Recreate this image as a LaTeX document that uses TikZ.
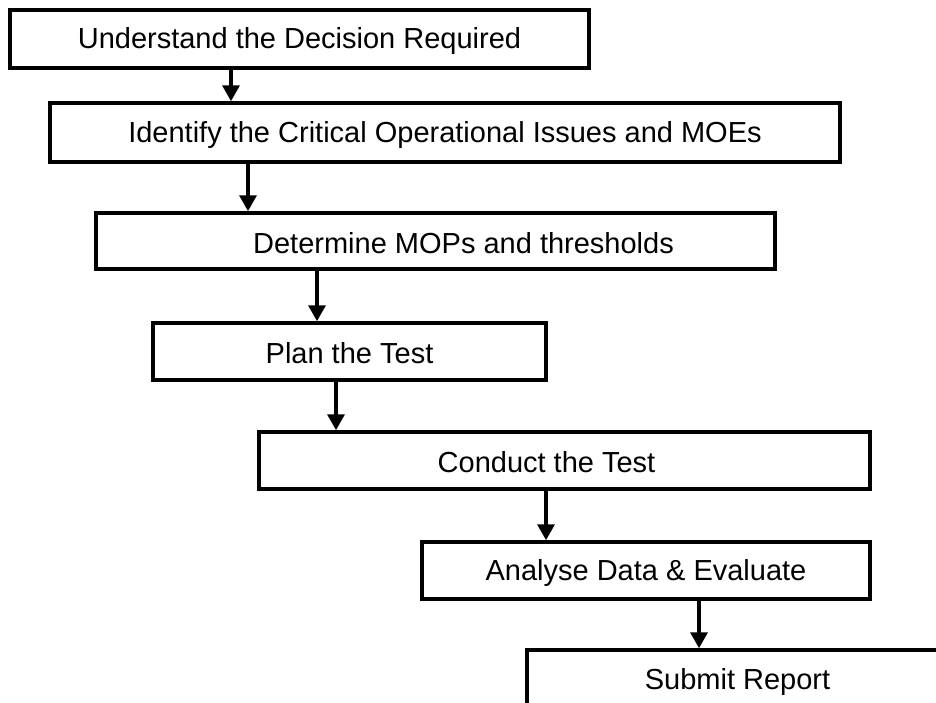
\documentclass[tikz,border=0pt]{standalone}
\usepackage{fontspec}
\setmainfont{Liberation Sans}
\usepackage{tikz}
\usetikzlibrary{arrows.meta}

\tikzset{
  stage/.style={draw, line width=3.5pt, minimum height=57pt, inner sep=0pt},
  flow/.style={line width=3.5pt, -{Triangle[length=16pt,width=17pt]}},
  every label/.style={yshift=-2pt},
}

\begin{document}
\begin{tikzpicture}[x=1pt, y=-1pt, font=\fontsize{29}{34}\selectfont]
  \clip (0,0) rectangle (936,702);
  % the seven stages, top to bottom
  \node[stage, minimum width=579pt, minimum height=58pt,
        label={center:Understand the Decision Required}] (b1) at (299.5,39) {};
  \node[stage, minimum width=790pt, minimum height=59pt,
        label={center:Identify the Critical Operational Issues and MOEs}] (b2) at (445,132.5) {};
  \node[stage, minimum width=679pt, minimum height=56pt,
        label={[xshift=28pt]center:Determine MOPs and thresholds}] (b3) at (435.5,241) {};
  \node[stage, minimum width=393pt,
        label={center:Plan the Test}] (b4) at (349.5,351.5) {};
  \node[stage, minimum width=611pt,
        label={[xshift=-18pt]center:Conduct the Test}] (b5) at (564.5,460.5) {};
  \node[stage, minimum width=448pt,
        label={center:Analyse Data \& Evaluate}] (b6) at (646,570.5) {};
  \node[stage, minimum width=473pt, minimum height=60pt,
        label={[xshift=-26pt]center:Submit Report}] (b7) at (763.5,680) {};
  % connectors
  \draw[flow] (b1.south -| 231,0) -- (b2.north -| 231,0);
  \draw[flow] (b2.south -| 248,0) -- (b3.north -| 248,0);
  \draw[flow] (b3.south -| 317,0) -- (b4.north -| 317,0);
  \draw[flow] (b4.south -| 336,0) -- (b5.north -| 336,0);
  \draw[flow] (b5.south -| 546,0) -- (b6.north -| 546,0);
  \draw[flow] (b6.south -| 699,0) -- (b7.north -| 699,0);
\end{tikzpicture}
\end{document}
